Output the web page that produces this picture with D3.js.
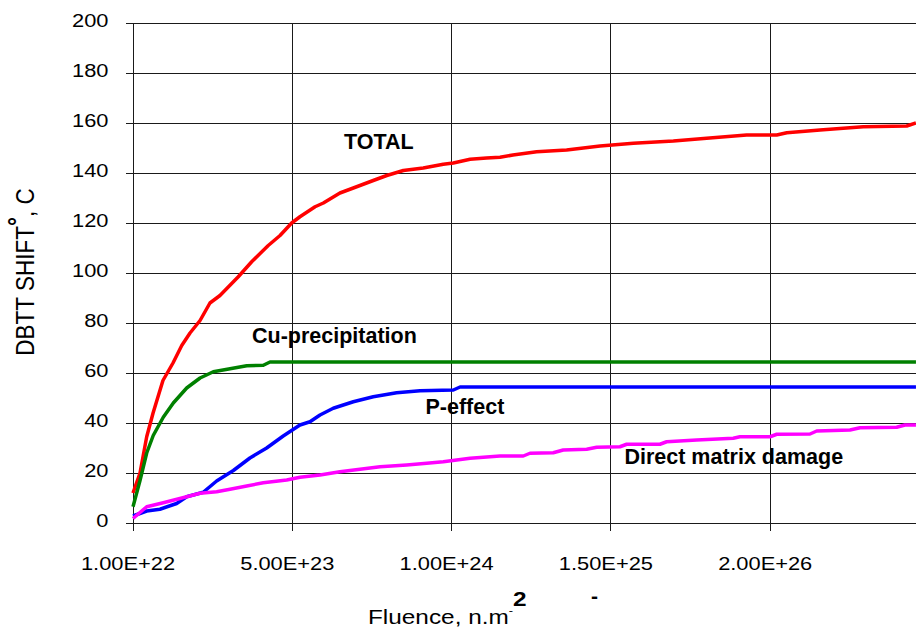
<!DOCTYPE html>
<html>
<head>
<meta charset="utf-8">
<script src="https://cdn.jsdelivr.net/npm/d3@7"></script>
<style>
  body { margin: 0; background: #fff; }
  svg { display: block; font-family: "Liberation Sans", Arial, sans-serif; }
</style>
</head>
<body>
<svg id="chart" width="916" height="632"></svg>
<script>
// category labels on the fluence axis (equally spaced in the original)
const fluenceLabels = ["1.00E+22", "5.00E+23", "1.00E+24", "1.50E+25", "2.00E+26"];
const shiftTicks = [0, 20, 40, 60, 80, 100, 120, 140, 160, 180, 200];

// [position on the category axis, DBTT shift in C]
const totalShift = [
  [0, 12], [0.044, 20], [0.086, 34.5], [0.126, 44], [0.188, 57], [0.251, 64],
  [0.306, 71], [0.358, 76], [0.421, 81], [0.483, 88], [0.546, 91], [0.661, 98.5],
  [0.745, 104.5], [0.849, 111], [0.923, 115], [0.996, 120], [1.048, 122.5],
  [1.143, 126.5], [1.195, 128], [1.299, 132], [1.383, 134], [1.508, 137],
  [1.593, 139], [1.697, 141], [1.822, 142], [1.948, 143.5], [2.011, 144],
  [2.116, 145.5], [2.22, 146], [2.304, 146.3], [2.385, 147.2], [2.534, 148.5],
  [2.722, 149.2], [2.932, 150.8], [3.141, 151.9], [3.392, 152.8], [3.601, 153.9],
  [3.852, 155.2], [4.041, 155.2], [4.104, 156.1], [4.313, 157.2], [4.584, 158.5],
  [4.857, 158.8], [4.915, 160]
];
const cuPrecipitation = [
  [0, 6.5], [0.044, 17], [0.086, 28], [0.127, 35], [0.19, 42.3], [0.253, 48],
  [0.337, 54], [0.421, 58], [0.504, 60.5], [0.609, 61.7], [0.714, 62.9],
  [0.818, 63.1], [0.86, 64.4], [4.915, 64.4]
];
const pEffect = [
  [0, 2.8], [0.086, 4.8], [0.169, 5.5], [0.274, 7.8], [0.337, 10.5], [0.441, 12.3],
  [0.525, 16.8], [0.63, 21], [0.734, 26], [0.839, 30], [0.943, 34.8], [1.048, 39.2],
  [1.111, 40.5], [1.174, 43.2], [1.257, 45.9], [1.383, 48.5], [1.508, 50.5],
  [1.655, 52.1], [1.802, 52.9], [2.011, 53.2], [2.053, 54.4], [4.915, 54.4]
];
const matrixDamage = [
  [0, 1.8], [0.086, 6.5], [0.19, 8.1], [0.337, 10.5], [0.421, 11.9], [0.525, 12.5],
  [0.609, 13.5], [0.714, 14.8], [0.818, 16.1], [0.965, 17.2], [1.048, 18.3],
  [1.174, 19.2], [1.299, 20.5], [1.425, 21.5], [1.551, 22.5], [1.718, 23.2],
  [1.844, 23.9], [1.948, 24.5], [2.116, 25.9], [2.304, 26.8], [2.45, 26.8],
  [2.492, 27.9], [2.638, 28.1], [2.701, 29.2], [2.848, 29.5], [2.911, 30.3],
  [3.057, 30.5], [3.099, 31.5], [3.308, 31.5], [3.35, 32.5], [3.539, 33.2],
  [3.768, 33.9], [3.81, 34.5], [3.999, 34.5], [4.041, 35.5], [4.25, 35.6],
  [4.292, 36.8], [4.501, 37.2], [4.564, 38.1], [4.794, 38.3], [4.846, 39.2],
  [4.915, 39.2]
];

const series = [
  { name: "TOTAL", data: totalShift, color: "#ff0000", label: [1.325, 149.5] },
  { name: "Cu-precipitation", data: cuPrecipitation, color: "#008000", label: [0.747, 72.2] },
  { name: "P-effect", data: pEffect, color: "#0000ff", label: [1.836, 43.8] },
  { name: "Direct matrix damage", data: matrixDamage, color: "#ff00ff", label: [3.085, 23.8] }
];

const svg = d3.select("#chart");
const W = 916;

const x = d3.scaleLinear().domain([0, 5]).range([133, 929.5]);
const y = d3.scaleLinear().domain([0, 200]).range([523, 23]);

const grid = svg.append("g")
  .attr("stroke", "#1a1a1a")
  .attr("stroke-width", 1)
  .attr("shape-rendering", "crispEdges");

grid.selectAll(".hgrid")
  .data(shiftTicks)
  .join("line")
  .attr("class", "hgrid")
  .attr("x1", 126).attr("x2", W)
  .attr("y1", (d) => y(d)).attr("y2", (d) => y(d));

grid.selectAll(".vgrid")
  .data(fluenceLabels)
  .join("line")
  .attr("class", "vgrid")
  .attr("x1", (d, i) => x(i)).attr("x2", (d, i) => x(i))
  .attr("y1", y(200)).attr("y2", y(0) + 8);

// y tick labels, slightly stretched like the original export
svg.append("g")
  .selectAll("text")
  .data(shiftTicks)
  .join("text")
  .attr("transform", (d) => `translate(108.5,${y(d) + 4}) scale(1.15,1)`)
  .attr("text-anchor", "end")
  .attr("font-size", 19)
  .attr("fill", "#000")
  .text((d) => d);

svg.append("g")
  .selectAll("text")
  .data(fluenceLabels)
  .join("text")
  .attr("transform", (d, i) => `translate(${x(i) - 5},570) scale(1.15,1)`)
  .attr("text-anchor", "middle")
  .attr("font-size", 19)
  .attr("fill", "#000")
  .text((d) => d);

const line = d3.line()
  .x((d) => x(d[0]))
  .y((d) => y(d[1]));

svg.append("g")
  .selectAll("path")
  .data(series)
  .join("path")
  .attr("fill", "none")
  .attr("stroke", (d) => d.color)
  .attr("stroke-width", 3.5)
  .attr("stroke-linejoin", "round")
  .attr("d", (d) => line(d.data));

svg.append("g")
  .selectAll("text")
  .data(series)
  .join("text")
  .attr("x", (d) => x(d.label[0]))
  .attr("y", (d) => y(d.label[1]))
  .attr("font-size", 21.5)
  .attr("font-weight", "bold")
  .attr("fill", "#000")
  .text((d) => d.name);

// axis titles
const yTitle = svg.append("text")
  .attr("transform", "translate(33.5,272) scale(1.12,1) rotate(-90)")
  .attr("text-anchor", "middle")
  .attr("font-size", 22.5)
  .attr("fill", "#000");
yTitle.append("tspan").text("DBTT SHIFT");
yTitle.append("tspan").attr("font-weight", "bold").attr("dy", -7).text("°");
yTitle.append("tspan").attr("dy", 7).text(", C");

const xTitle = svg.append("text")
  .attr("transform", "translate(368,624) scale(1.16,1)")
  .attr("font-size", 21)
  .attr("fill", "#000");
xTitle.append("tspan").text("Fluence, n.m");
xTitle.append("tspan").attr("font-size", 11).attr("dy", -10).text("-");
xTitle.append("tspan").attr("font-weight", "bold").attr("dy", -8).text("2");

svg.append("text")
  .attr("x", 591)
  .attr("y", 603)
  .attr("font-size", 21)
  .attr("font-weight", "bold")
  .attr("fill", "#000")
  .text("-");
</script>
</body>
</html>
